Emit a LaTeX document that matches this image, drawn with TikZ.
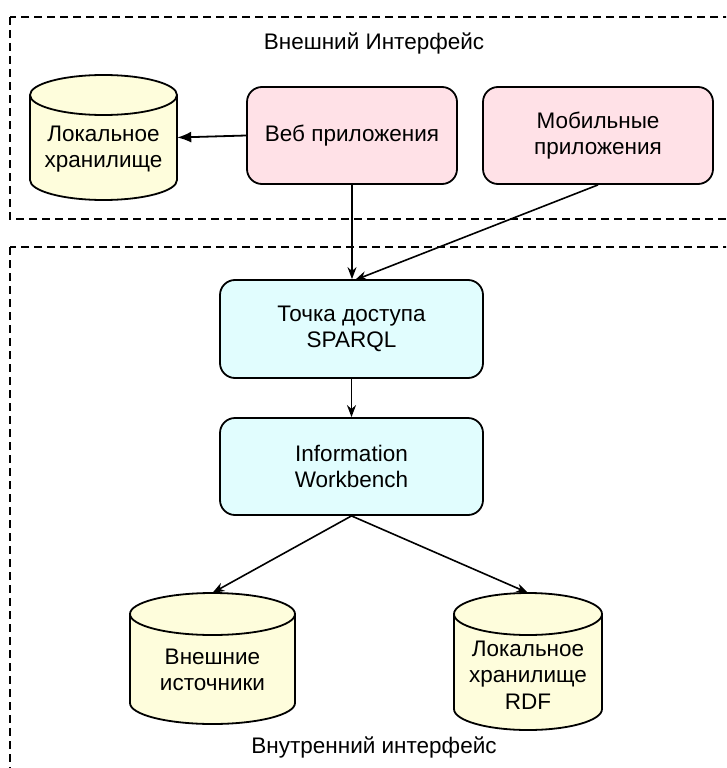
\documentclass[tikz,border=0pt]{standalone}
\usepackage{fontspec}
\setmainfont{Liberation Sans}
\usetikzlibrary{arrows.meta}
\definecolor{pinkfill}{HTML}{FFE1E7}
\definecolor{cyanfill}{HTML}{E1FDFE}
\definecolor{yelfill}{HTML}{FEFDDC}
\begin{document}
\begin{tikzpicture}[x=1pt,y=-1pt,
  every node/.style={font=\fontsize{22.5}{26.5}\selectfont, align=center, inner sep=0pt},
  appbox/.style={draw=black, line width=1.8pt, rounded corners=15pt, fill=pinkfill},
  srvbox/.style={draw=black, line width=1.8pt, rounded corners=15pt, fill=cyanfill},
  zone/.style={draw=black, line width=1.6pt, dash pattern=on 8pt off 5pt},
  conn/.style={draw=black, line width=1.6pt, -{Stealth[length=12pt,width=9pt]}},
  bigconn/.style={draw=black, line width=1.8pt, -{Latex[length=14pt,width=11pt]}},
  cylline/.style={draw=black, line width=1.8pt, fill=yelfill}
]
\useasboundingbox (0,0) rectangle (726,768);
\begin{scope}
\clip (0,0) rectangle (726,768);
\draw[zone] (10,17) rectangle (760,219);
\draw[zone] (10,247) rectangle (760,800);
\end{scope}

\node (title1) at (374,43) {Внешний Интерфейс};
\node (title2) at (374,747) {Внутренний интерфейс};

% cylinders: L, R, T, B, ry
\newcommand{\mycyl}[5]{%
  \pgfmathsetmacro{\cx}{(#1+#2)/2}%
  \pgfmathsetmacro{\rx}{(#2-#1)/2}%
  \draw[cylline] (\cx,#4-#5) ellipse [x radius=\rx, y radius=#5];
  \fill[yelfill] (#1,#3+#5) rectangle (#2,#4-#5);
  \draw[black, line width=1.8pt] (#1,#3+#5) -- (#1,#4-#5);
  \draw[black, line width=1.8pt] (#2,#3+#5) -- (#2,#4-#5);
  \draw[cylline] (\cx,#3+#5) ellipse [x radius=\rx, y radius=#5];
}
\mycyl{30}{177}{75}{200}{20}
\mycyl{130}{295}{593}{724}{21}
\mycyl{454}{602}{593}{730}{21}

\node (c1) at (103.5,137.5) [minimum width=147pt, minimum height=125pt] {};
\node (c1t) at (103.5,149) {Локальное\\хранилище};
\node (c2) at (212.5,658.5) [minimum width=165pt, minimum height=131pt] {};
\node (c2t) at (212.5,670) {Внешние\\источники};
\node (c3) at (528,661.5) [minimum width=148pt, minimum height=137pt] {};
\node (c3t) at (528,675) {Локальное\\хранилище\\RDF};

\node (web) [appbox, minimum width=210pt, minimum height=97pt] at (352,135.5) {Веб приложения};
\node (mob) [appbox, minimum width=230pt, minimum height=97pt] at (598,135.5) {Мобильные\\приложения};
\node (sparql) [srvbox, minimum width=263pt, minimum height=98pt] at (351.5,329) {Точка доступа\\SPARQL};
\node (iw) [srvbox, minimum width=263pt, minimum height=97pt] at (351.5,466.5) {Information\\Workbench};

\coordinate (sp_in) at (355,280);
\draw[bigconn] (web.west) -- (c1.east);
\draw[conn] (web.south) -- (web.south |- sparql.north);
\draw[conn] (mob.south) -- (sp_in);
\draw[conn] (sparql.south) -- (iw.north);
\draw[conn] (iw.south) -- (c2.north);
\draw[conn] (iw.south) -- (c3.north);
\end{tikzpicture}
\end{document}
